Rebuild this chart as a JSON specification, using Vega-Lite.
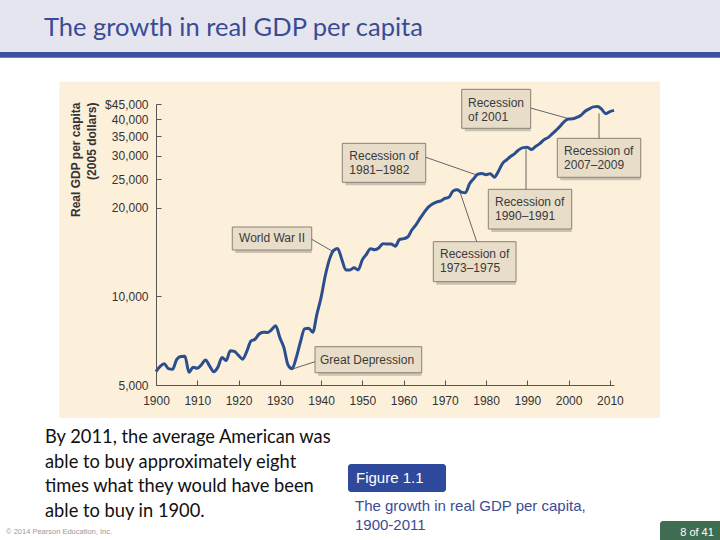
{
  "$schema": "https://vega.github.io/schema/vega-lite/v6.json",
  "width": 458,
  "height": 281,
  "autosize": {"type": "none"},
  "padding": {"left": 156, "top": 104, "right": 106, "bottom": 155},
  "background": "#ffffff",
  "config": {"view": {"stroke": null}, "font": "Liberation Sans", "axis": {"grid": false, "zindex": 1}},
  "datasets": {
    "gdp": [
      {"year":1900,"gdp":5550},{"year":1901,"gdp":5780},{"year":1902,"gdp":5900},{"year":1903,"gdp":5680},{"year":1904,"gdp":5650},
      {"year":1905,"gdp":6100},{"year":1906,"gdp":6250},{"year":1907,"gdp":6260},{"year":1908,"gdp":5520},{"year":1909,"gdp":5740},
      {"year":1910,"gdp":5700},{"year":1911,"gdp":5860},{"year":1912,"gdp":6080},{"year":1913,"gdp":5800},{"year":1914,"gdp":5550},
      {"year":1915,"gdp":5750},{"year":1916,"gdp":6200},{"year":1917,"gdp":6050},{"year":1918,"gdp":6540},{"year":1919,"gdp":6500},
      {"year":1920,"gdp":6300},{"year":1921,"gdp":6120},{"year":1922,"gdp":6500},{"year":1923,"gdp":7050},{"year":1924,"gdp":7150},
      {"year":1925,"gdp":7450},{"year":1926,"gdp":7560},{"year":1927,"gdp":7540},{"year":1928,"gdp":7700},{"year":1929,"gdp":7950},
      {"year":1930,"gdp":7250},{"year":1931,"gdp":6700},{"year":1932,"gdp":5850},{"year":1933,"gdp":5680},{"year":1934,"gdp":6200},
      {"year":1935,"gdp":7000},{"year":1936,"gdp":7750},{"year":1937,"gdp":7800},{"year":1938,"gdp":7550},{"year":1939,"gdp":8700},
      {"year":1940,"gdp":9900},{"year":1941,"gdp":11700},{"year":1942,"gdp":13300},{"year":1943,"gdp":14300},{"year":1944,"gdp":14550},
      {"year":1945,"gdp":13400},{"year":1946,"gdp":12300},{"year":1947,"gdp":12300},{"year":1948,"gdp":12500},{"year":1949,"gdp":12300},
      {"year":1950,"gdp":13300},{"year":1951,"gdp":13900},{"year":1952,"gdp":14500},{"year":1953,"gdp":14400},{"year":1954,"gdp":14600},
      {"year":1955,"gdp":15100},{"year":1956,"gdp":15050},{"year":1957,"gdp":15050},{"year":1958,"gdp":14800},{"year":1959,"gdp":15600},
      {"year":1960,"gdp":15700},{"year":1961,"gdp":15900},{"year":1962,"gdp":16800},{"year":1963,"gdp":17500},{"year":1964,"gdp":18400},
      {"year":1965,"gdp":19300},{"year":1966,"gdp":20100},{"year":1967,"gdp":20600},{"year":1968,"gdp":20900},{"year":1969,"gdp":21100},
      {"year":1970,"gdp":21500},{"year":1971,"gdp":21700},{"year":1972,"gdp":22800},{"year":1973,"gdp":23000},{"year":1974,"gdp":22600},
      {"year":1975,"gdp":22500},{"year":1976,"gdp":24100},{"year":1977,"gdp":25100},{"year":1978,"gdp":26000},{"year":1979,"gdp":26150},
      {"year":1980,"gdp":25900},{"year":1981,"gdp":26100},{"year":1982,"gdp":25400},{"year":1983,"gdp":26600},{"year":1984,"gdp":28300},
      {"year":1985,"gdp":29100},{"year":1986,"gdp":29900},{"year":1987,"gdp":30600},{"year":1988,"gdp":31500},{"year":1989,"gdp":32000},
      {"year":1990,"gdp":32100},{"year":1991,"gdp":31500},{"year":1992,"gdp":32300},{"year":1993,"gdp":33000},{"year":1994,"gdp":34000},
      {"year":1995,"gdp":34600},{"year":1996,"gdp":35600},{"year":1997,"gdp":36700},{"year":1998,"gdp":37900},{"year":1999,"gdp":39300},
      {"year":2000,"gdp":40000},{"year":2001,"gdp":40100},{"year":2002,"gdp":40500},{"year":2003,"gdp":41200},{"year":2004,"gdp":42500},
      {"year":2005,"gdp":43300},{"year":2006,"gdp":44000},{"year":2007,"gdp":44100},{"year":2008,"gdp":43200},{"year":2009,"gdp":41700},
      {"year":2010,"gdp":42400},{"year":2011,"gdp":42800}
    ],
    "boxes": [
      {"label":"Recession\nof 2001","x1":1974.09,"x2":1990.81,"y1":37209,"y2":50469,"tx":1975.62,"ty":45434},
      {"label":"Recession of\n1981–1982","x1":1945.15,"x2":1965.37,"y1":24393,"y2":33087,"tx":1946.85,"ty":29971},
      {"label":"Recession of\n2007–2009","x1":1997.26,"x2":2017.48,"y1":25365,"y2":34406,"tx":1998.89,"ty":31166},
      {"label":"Recession of\n1990–1991","x1":1980.54,"x2":2000.75,"y1":16931,"y2":23092,"tx":1982.16,"ty":20959},
      {"label":"Recession of\n1973–1975","x1":1967.21,"x2":1987.25,"y1":11216,"y2":15332,"tx":1968.83,"ty":13928},
      {"label":"World War II","x1":1918.49,"x2":1937.74,"y1":14367,"y2":17198,"tx":1920.12,"ty":15724},
      {"label":"Great Depression","x1":1938.54,"x2":1964.40,"y1":5504,"y2":6745,"tx":1939.75,"ty":6094}
    ],
    "connectors": [
      {"x1":1990.81,"y1":43592,"x2":2000.34,"y2":40015},
      {"x1":1965.37,"y1":29668,"x2":1977.73,"y2":25826},
      {"x1":2007.37,"y1":41837,"x2":2007.37,"y2":34406},
      {"x1":1989.68,"y1":31583,"x2":1989.68,"y2":23092},
      {"x1":1973.68,"y1":22609,"x2":1977.73,"y2":15332},
      {"x1":1937.74,"y1":15626,"x2":1942.97,"y2":14178},
      {"x1":1938.54,"y1":6000,"x2":1932.89,"y2":5653}
    ]
  },
  "layer": [
    {
      "data": {"values": [{"x1":1860,"x2":2040,"y1":67555,"y2":110000}]},
      "mark": {"type": "rect", "fill": "#e5e5ef"},
      "encoding": {
        "x": {"field":"x1","type":"quantitative","scale":{"domain":[1900,2011],"nice":false,"zero":false}},
        "x2": {"field":"x2"},
        "y": {"field":"y1","type":"quantitative","scale":{"type":"log","domain":[5000,45000],"nice":false}},
        "y2": {"field":"y2"}
      }
    },
    {
      "data": {"values": [{"x1":1860,"x2":2040,"y1":64600,"y2":67555}]},
      "mark": {"type": "rect", "fill": "#3c53a0"},
      "encoding": {
        "x": {"field":"x1","type":"quantitative","scale":{"domain":[1900,2011],"nice":false,"zero":false}},
        "x2": {"field":"x2"},
        "y": {"field":"y1","type":"quantitative","scale":{"type":"log","domain":[5000,45000],"nice":false}},
        "y2": {"field":"y2"}
      }
    },
    {
      "data": {"values": [{"x1":1876.56,"x2":2022.15,"y1":3862,"y2":53565}]},
      "mark": {"type": "rect", "fill": "#fcf0db"},
      "encoding": {
        "x": {"field":"x1","type":"quantitative","scale":{"domain":[1900,2011],"nice":false,"zero":false}},
        "x2": {"field":"x2"},
        "y": {"field":"y1","type":"quantitative","scale":{"type":"log","domain":[5000,45000],"nice":false}},
        "y2": {"field":"y2"}
      }
    },
    {
      "data": {"name": "boxes"},
      "mark": {"type": "rect", "fill": "#b9b1a4", "opacity": 0.75, "xOffset": 3, "yOffset": 3},
      "encoding": {
        "x": {"field":"x1","type":"quantitative","scale":{"domain":[1900,2011],"nice":false,"zero":false}},
        "x2": {"field":"x2"},
        "y": {"field":"y1","type":"quantitative","scale":{"type":"log","domain":[5000,45000],"nice":false}},
        "y2": {"field":"y2"}
      }
    },
    {
      "data": {"name": "boxes"},
      "mark": {"type": "rect", "fill": "#e8ddc8", "stroke": "#8a8274", "strokeWidth": 1},
      "encoding": {
        "x": {"field":"x1","type":"quantitative","scale":{"domain":[1900,2011],"nice":false,"zero":false}},
        "x2": {"field":"x2"},
        "y": {"field":"y1","type":"quantitative","scale":{"type":"log","domain":[5000,45000],"nice":false}},
        "y2": {"field":"y2"}
      }
    },
    {
      "data": {"name": "connectors"},
      "mark": {"type": "rule", "color": "#555555", "strokeWidth": 0.9},
      "encoding": {
        "x": {"field":"x1","type":"quantitative","scale":{"domain":[1900,2011],"nice":false,"zero":false}},
        "x2": {"field":"x2"},
        "y": {"field":"y1","type":"quantitative","scale":{"type":"log","domain":[5000,45000],"nice":false}},
        "y2": {"field":"y2"}
      }
    },
    {
      "data": {"name": "gdp"},
      "mark": {"type": "line", "color": "#2a4e8e", "strokeWidth": 3, "interpolate": "monotone"},
      "encoding": {
        "x": {"field":"year","type":"quantitative","scale":{"domain":[1900,2011],"nice":false,"zero":false},
          "axis":{"values":[1900,1910,1920,1930,1940,1950,1960,1970,1980,1990,2000,2010],"format":"d","title":null,"grid":false,"zindex":1,
            "labelFont":"Liberation Sans","labelFontSize":12,"labelColor":"#333333","domainColor":"#555555","tickColor":"#555555",
            "tickSize":-5,"labelPadding":15,"labelFlush":false,"labelOverlap":false}},
        "y": {"field":"gdp","type":"quantitative","scale":{"type":"log","domain":[5000,45000],"nice":false},
          "axis":{"values":[5000,10000,20000,25000,30000,35000,40000,45000],"zindex":1,
            "labelExpr":"datum.value == 45000 ? '$45,000' : format(datum.value, ',')",
            "title":["Real GDP per capita","(2005 dollars)"],"titleFont":"Liberation Sans","titleFontSize":12,"titleFontWeight":"bold",
            "titleColor":"#333333","titleAngle":-90,"titleX":-86,"titleY":-2,"titleAlign":"right","titleBaseline":"top","titleLineHeight":16,
            "grid":false,"labelFont":"Liberation Sans","labelFontSize":12,"labelColor":"#333333","domainColor":"#555555","tickColor":"#555555",
            "tickSize":-5,"labelPadding":13,"labelFlush":false,"labelOverlap":false}}
      }
    },
    {
      "data": {"name": "boxes"},
      "mark": {"type": "text", "align": "left", "baseline": "middle", "lineBreak": "\n", "lineHeight": 14.5, "font": "Liberation Sans", "fontSize": 12, "color": "#3a3a3a"},
      "encoding": {
        "x": {"field":"tx","type":"quantitative","scale":{"domain":[1900,2011],"nice":false,"zero":false}},
        "y": {"field":"ty","type":"quantitative","scale":{"type":"log","domain":[5000,45000],"nice":false}},
        "text": {"field":"label"}
      }
    },
    {
      "data": {"values": [{"t":"The growth in real GDP per capita","x":1872.86,"y":76860}]},
      "mark": {"type": "text", "align": "left", "baseline": "alphabetic", "font": "Lato", "fontSize": 25.5, "color": "#3a4b95"},
      "encoding": {
        "x": {"field":"x","type":"quantitative","scale":{"domain":[1900,2011],"nice":false,"zero":false}},
        "y": {"field":"y","type":"quantitative","scale":{"type":"log","domain":[5000,45000],"nice":false}},
        "text": {"field":"t"}
      }
    },
    {
      "data": {"values": [
        {"t":"By 2011, the average American was","x":1873.1,"y":3177},
        {"t":"able to buy approximately eight","x":1873.1,"y":2614},
        {"t":"times what they would have been","x":1873.1,"y":2166},
        {"t":"able to buy in 1900.","x":1873.1,"y":1781}
      ]},
      "mark": {"type": "text", "align": "left", "baseline": "alphabetic", "font": "Lato", "fontSize": 18.3, "color": "#111111"},
      "encoding": {
        "x": {"field":"x","type":"quantitative","scale":{"domain":[1900,2011],"nice":false,"zero":false}},
        "y": {"field":"y","type":"quantitative","scale":{"type":"log","domain":[5000,45000],"nice":false}},
        "text": {"field":"t"}
      }
    },
    {
      "data": {"values": [{"x1":1946.53,"x2":1970.29,"y1":2166,"y2":2696}]},
      "mark": {"type": "rect", "fill": "#2f4a9d", "cornerRadius": 3},
      "encoding": {
        "x": {"field":"x1","type":"quantitative","scale":{"domain":[1900,2011],"nice":false,"zero":false}},
        "x2": {"field":"x2"},
        "y": {"field":"y1","type":"quantitative","scale":{"type":"log","domain":[5000,45000],"nice":false}},
        "y2": {"field":"y2"}
      }
    },
    {
      "data": {"values": [{"t":"Figure 1.1","x":1948.47,"y":2318}]},
      "mark": {"type": "text", "align": "left", "baseline": "alphabetic", "font": "Liberation Sans", "fontSize": 15, "color": "#ffffff"},
      "encoding": {
        "x": {"field":"x","type":"quantitative","scale":{"domain":[1900,2011],"nice":false,"zero":false}},
        "y": {"field":"y","type":"quantitative","scale":{"type":"log","domain":[5000,45000],"nice":false}},
        "text": {"field":"t"}
      }
    },
    {
      "data": {"values": [
        {"t":"The growth in real GDP per capita,","x":1948.23,"y":1867},
        {"t":"1900-2011","x":1948.23,"y":1609}
      ]},
      "mark": {"type": "text", "align": "left", "baseline": "alphabetic", "font": "Liberation Sans", "fontSize": 15, "color": "#3b4c96"},
      "encoding": {
        "x": {"field":"x","type":"quantitative","scale":{"domain":[1900,2011],"nice":false,"zero":false}},
        "y": {"field":"y","type":"quantitative","scale":{"type":"log","domain":[5000,45000],"nice":false}},
        "text": {"field":"t"}
      }
    },
    {
      "data": {"values": [{"x1":2022.15,"x2":2040,"y1":1300,"y2":1726}]},
      "mark": {"type": "rect", "fill": "#3f6d51", "cornerRadius": 3},
      "encoding": {
        "x": {"field":"x1","type":"quantitative","scale":{"domain":[1900,2011],"nice":false,"zero":false}},
        "x2": {"field":"x2"},
        "y": {"field":"y1","type":"quantitative","scale":{"type":"log","domain":[5000,45000],"nice":false}},
        "y2": {"field":"y2"}
      }
    },
    {
      "data": {"values": [{"t":"8 of 41","x":2031.12,"y":1536}]},
      "mark": {"type": "text", "align": "center", "baseline": "alphabetic", "font": "Liberation Sans", "fontSize": 11, "color": "#ffffff"},
      "encoding": {
        "x": {"field":"x","type":"quantitative","scale":{"domain":[1900,2011],"nice":false,"zero":false}},
        "y": {"field":"y","type":"quantitative","scale":{"type":"log","domain":[5000,45000],"nice":false}},
        "text": {"field":"t"}
      }
    },
    {
      "data": {"values": [{"t":"© 2014 Pearson Education, Inc.","x":1863.65,"y":1560}]},
      "mark": {"type": "text", "align": "left", "baseline": "alphabetic", "font": "Liberation Sans", "fontSize": 7.5, "color": "#999999"},
      "encoding": {
        "x": {"field":"x","type":"quantitative","scale":{"domain":[1900,2011],"nice":false,"zero":false}},
        "y": {"field":"y","type":"quantitative","scale":{"type":"log","domain":[5000,45000],"nice":false}},
        "text": {"field":"t"}
      }
    }
  ]
}
